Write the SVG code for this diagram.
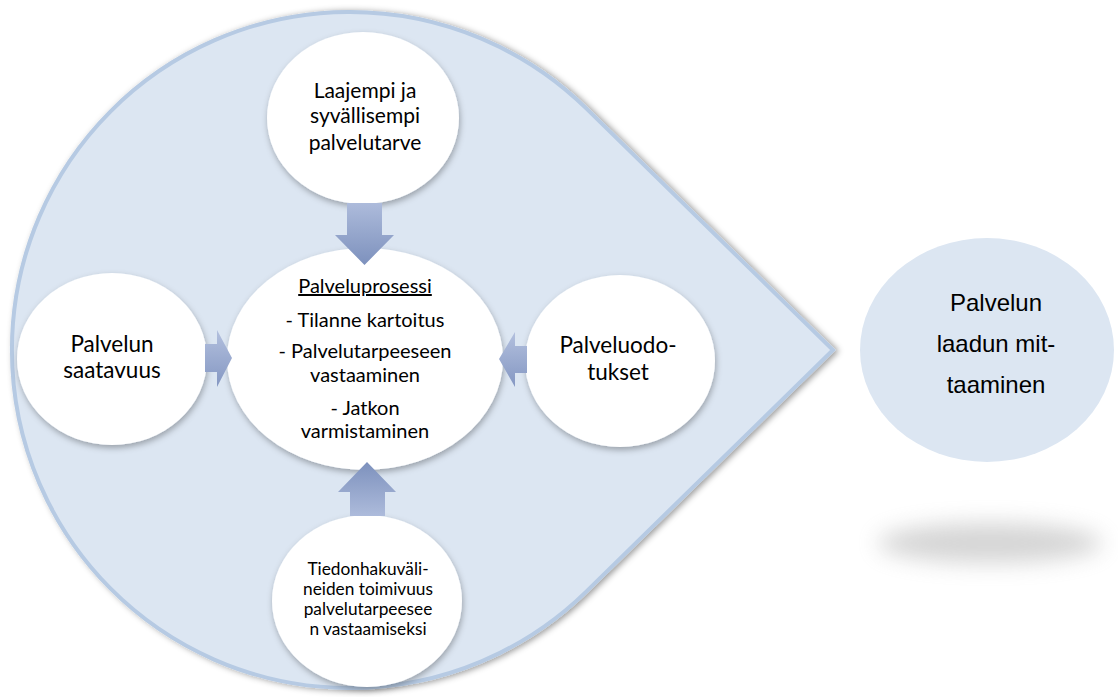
<svg xmlns="http://www.w3.org/2000/svg" width="1118" height="697" viewBox="0 0 1118 697">
<defs>
<style>
.lbl{font-family:Lato,"Open Sans","DejaVu Sans",sans-serif;fill:#000;text-anchor:middle}
.arial{font-family:"Liberation Sans",Arial,sans-serif;fill:#000;text-anchor:middle;font-size:24px}
.node{fill:#fff;filter:url(#nshadow)}
.arrow{stroke:none}
</style>
<filter id="tshadow" x="-10%" y="-10%" width="120%" height="120%">
<feDropShadow dx="3" dy="1" stdDeviation="3" flood-color="#000" flood-opacity="0.4"/>
</filter>
<filter id="nshadow" x="-20%" y="-20%" width="140%" height="140%">
<feDropShadow dx="1" dy="3" stdDeviation="3" flood-color="#000" flood-opacity="0.3"/>
</filter>
<filter id="blur" x="-50%" y="-150%" width="200%" height="400%">
<feGaussianBlur stdDeviation="11"/>
</filter>
<linearGradient id="gDown" x1="0" y1="0" x2="0" y2="1">
<stop offset="0" stop-color="#adbbdb"/><stop offset="1" stop-color="#7d91bd"/>
</linearGradient>
<linearGradient id="gUp" x1="0" y1="1" x2="0" y2="0">
<stop offset="0" stop-color="#adbbdb"/><stop offset="1" stop-color="#7d91bd"/>
</linearGradient>
<linearGradient id="gRight" x1="0" y1="0" x2="0" y2="1">
<stop offset="0" stop-color="#b3c0de"/><stop offset="1" stop-color="#8497c2"/>
</linearGradient>
</defs>
<rect width="1118" height="697" fill="#fff"/>

<g id="container">
<path d="M586.5 108.6 L833 350 L586.5 591.4 A338 338 0 1 1 586.5 108.6 Z" fill="#dce6f2" stroke="#b6cae3" stroke-width="4" filter="url(#tshadow)"/>
</g>

<g id="node-quality">
<ellipse cx="990" cy="543" rx="112" ry="20" fill="#a8a8a8" opacity="0.48" filter="url(#blur)"/>
<ellipse cx="987" cy="350" rx="127" ry="112" fill="#dce6f2"/>
<text class="arial" x="996" y="311">Palvelun</text>
<text class="arial" x="996" y="352">laadun mit-</text>
<text class="arial" x="996" y="393">taaminen</text>
</g>

<g id="node-top">
<ellipse class="node" cx="363" cy="118" rx="96" ry="86"/>
<text class="lbl" font-size="21" x="365" y="98">Laajempi ja</text>
<text class="lbl" font-size="21" x="365" y="123">syvällisempi</text>
<text class="lbl" font-size="21" x="365" y="150">palvelutarve</text>
</g>

<g id="node-left">
<ellipse class="node" cx="112" cy="359" rx="95" ry="86"/>
<text class="lbl" font-size="22.5" x="112" y="352">Palvelun</text>
<text class="lbl" font-size="22.5" x="112" y="378">saatavuus</text>
</g>

<g id="node-right">
<ellipse class="node" cx="620" cy="361" rx="95" ry="86"/>
<text class="lbl" font-size="22.5" x="618" y="353">Palveluodo-</text>
<text class="lbl" font-size="22.5" x="618" y="380">tukset</text>
</g>

<g id="node-bottom">
<ellipse class="node" cx="367" cy="601" rx="95" ry="86"/>
<text class="lbl" font-size="17.3" x="368" y="575">Tiedonhakuväli-</text>
<text class="lbl" font-size="17.3" x="368" y="595">neiden toimivuus</text>
<text class="lbl" font-size="17.3" x="368" y="615">palvelutarpeesee</text>
<text class="lbl" font-size="17.3" x="368" y="635">n vastaamiseksi</text>
</g>

<g id="node-center">
<ellipse class="node" cx="365" cy="359" rx="138" ry="111"/>
<text class="lbl" font-size="20" x="365" y="293" text-decoration="underline">Palveluprosessi</text>
<text class="lbl" font-size="20" x="365" y="327">- Tilanne kartoitus</text>
<text class="lbl" font-size="20" x="365" y="358">- Palvelutarpeeseen</text>
<text class="lbl" font-size="20" x="365" y="382">vastaaminen</text>
<text class="lbl" font-size="20" x="365" y="415">- Jatkon</text>
<text class="lbl" font-size="20" x="365" y="438">varmistaminen</text>
</g>

<g id="connectors">
<path class="arrow" fill="url(#gDown)" d="M347 203 H382 V235 H394 L364.5 265 L335 235 H347 Z"/>
<path class="arrow" fill="url(#gUp)" d="M350 516 H385 V492 H396 L367 462 L338 492 H350 Z"/>
<path class="arrow" fill="url(#gRight)" d="M205 344 H217 V330 L232 358 L217 387 V372 H205 Z"/>
<path class="arrow" fill="url(#gRight)" d="M527 346 H515 V332 L499 359 L515 387 V373 H527 Z"/>
</g>
</svg>
